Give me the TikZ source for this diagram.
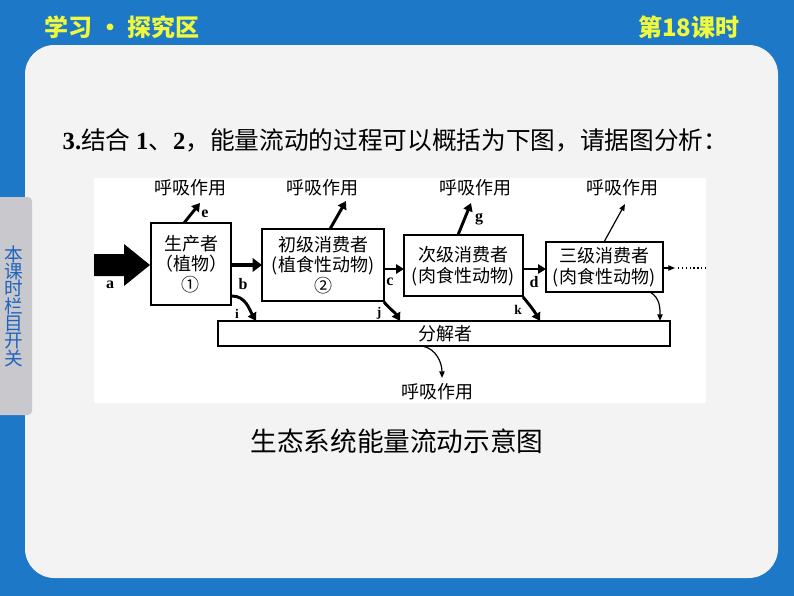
\documentclass[tikz,border=0pt]{standalone}
\usepackage{fontspec}
\setmainfont{Liberation Serif}
\newfontfamily\cjk{Noto Sans CJK SC}
\usetikzlibrary{arrows.meta}
\definecolor{bgblue}{RGB}{30,120,200}
\definecolor{panel}{RGB}{243,243,243}
\definecolor{hdr}{RGB}{240,250,60}
\definecolor{tabgrey}{RGB}{200,200,205}
\definecolor{tabtxt}{RGB}{30,100,190}
\tikzset{
  lbl/.style={font=\cjk\fontsize{13.5}{15.5}\selectfont},
  let/.style={font=\bfseries\fontsize{12}{14}\selectfont},
  thick arr/.style={line width=3.5pt,-{Triangle[length=7pt,width=10pt]}},
  mid arr/.style={line width=2.2pt,-{Triangle[length=6pt,width=7pt]}},
  thin arr/.style={line width=0.9pt,-{Triangle[length=5pt,width=4pt]}},
}
\begin{document}
\begin{tikzpicture}[x=0.75pt,y=-0.75pt]
\useasboundingbox (0,0) rectangle (794,596);
\fill[bgblue] (0,0) rectangle (794,596);
\fill[panel,rounded corners=22pt] (25,45) rectangle (778,578);
\fill[tabgrey,rounded corners=3pt] (-5,197) rectangle (32,415);
\node[text=tabtxt,font=\cjk\fontsize{14}{16}\selectfont,align=center] (tab) at (14,306) {本\\[-3pt]课\\[-3pt]时\\[-3pt]栏\\[-3pt]目\\[-3pt]开\\[-3pt]关};
\node[text=hdr,font=\cjk\bfseries\fontsize{18}{20}\selectfont,anchor=west] (h1) at (40,27) {学习 · 探究区};
\node[text=hdr,font=\cjk\bfseries\fontsize{18}{20}\selectfont,anchor=east] (h2) at (744,27) {第18课时};
\node[font=\cjk\fontsize{18.5}{22}\selectfont,anchor=west] (title) at (58,140) {\textbf{\rmfamily 3.}结合 \textbf{\rmfamily 1}、\textbf{\rmfamily 2}，能量流动的过程可以概括为下图，请据图分析：};
\fill[white] (94,178) rectangle (706,403);
% boxes
\draw[line width=0.9pt,fill=white] (151,223) rectangle (231,305);
\node[lbl,align=center] (pt) at (191,264) {生产者\\（植物）\\①};
\draw[line width=0.9pt,fill=white] (262,229) rectangle (384,301);
\node[lbl,align=center] (c1) at (323,265) {初级消费者\\(植食性动物)\\②};
\draw[line width=0.9pt,fill=white] (404,235) rectangle (523,296);
\node[lbl,align=center] (c2) at (463,266) {次级消费者\\(肉食性动物)};
\draw[line width=0.9pt,fill=white] (546,242) rectangle (663,292);
\node[lbl,align=center] (c3) at (604,267) {三级消费者\\(肉食性动物)};
\draw[line width=0.9pt,fill=white] (218,321) rectangle (670,346);
\node[lbl] (dec) at (445,334) {分解者};
\fill (94,254) -- (124,254) -- (124,244) -- (150,265) -- (124,286) -- (124,276) -- (94,276) -- cycle;
\node[let] (la) at (110,285) {a};
\draw[thick arr] (231,265) -- (262,265);
\node[let] (lb) at (243,284) {b};
\draw[mid arr] (384,269) -- (404,269);
\node[let] (lc) at (390,282) {c};
\draw[mid arr] (523,269) -- (546,269);
\node[let] (ld) at (534,282) {d};
\draw[thin arr] (663,268) -- (675,268);
\draw[line width=0.9pt,dotted] (678,268) -- (708,268);
% respiration
\node[lbl] (r1) at (190,188) {呼吸作用};
\node[lbl] (r2) at (322,188) {呼吸作用};
\node[lbl] (r3) at (475,188) {呼吸作用};
\node[lbl] (r4) at (622,188) {呼吸作用};
\node[lbl] (r5) at (437,392) {呼吸作用};
\draw[mid arr] (184,223) -- (200,203);
\node[let] (le) at (205,214) {e};
\draw[mid arr] (330,229) -- (346,201);
\draw[mid arr] (458,235) -- (471,203);
\node[let] (lg) at (479,219) {g};
\draw[thin arr] (604,242) -- (625,204);
% to decomposers
\draw[mid arr] (232,296) to[out=0,in=120] (256,321);
\node[let,font=\bfseries\fontsize{10}{12}\selectfont] (li) at (237,314) {i};
\draw[mid arr] (384,302) to[out=-50,in=120] (400,321);
\node[let,font=\bfseries\fontsize{10}{12}\selectfont] (lj) at (379,313) {j};
\draw[mid arr] (523,297) to[out=-50,in=120] (540,321);
\node[let,font=\bfseries\fontsize{10}{12}\selectfont] (lk) at (518,310) {k};
\draw[thin arr] (650,292) to[out=-30,in=90] (660,321);
\draw[thin arr] (422,346) to[out=-10,in=90] (442,378);
\node[font=\cjk\fontsize{20}{24}\selectfont] (cap) at (397,441) {生态系统能量流动示意图};
\end{tikzpicture}
\end{document}
